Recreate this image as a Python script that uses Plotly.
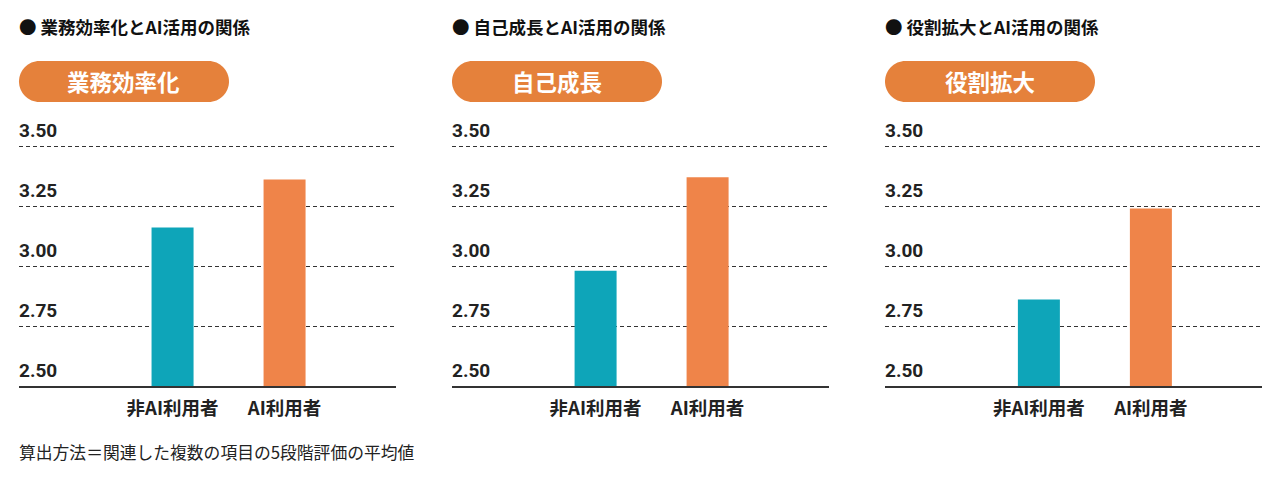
import plotly.graph_objects as go

# ---------------- data ----------------
panel_titles = ["● 業務効率化とAI活用の関係", "● 自己成長とAI活用の関係", "● 役割拡大とAI活用の関係"]
panel_labels = ["業務効率化", "自己成長", "役割拡大"]
categories = ["非AI利用者", "AI利用者"]
non_ai_values = [3.16, 2.98, 2.86]
ai_values = [3.36, 3.37, 3.24]
y_tick_values = [2.50, 2.75, 3.00, 3.25, 3.50]
y_tick_labels = ["2.50", "2.75", "3.00", "3.25", "3.50"]
footnote = "算出方法＝関連した複数の項目の5段階評価の平均値"

# ---------------- style ----------------
OFF = 8  # page body margin
W, H = 1280 - OFF, 480 - OFF
TEAL = "#0ea5b9"
ORANGE = "#ef8449"
PILL = "#e5813b"
INK = "#222222"
CJK = "Noto Sans CJK JP"
NUM = "Liberation Sans Narrow, Roboto, Noto Sans CJK JP"

# panel geometry in screen pixels (left, right of plot area) and x-range per panel
panels_px = [(19, 396), (452, 829), (885, 1262)]
x_ranges = [(-1.371, 1.995), (-1.282, 2.084), (-1.374, 1.992)]
plot_top_px, plot_bottom_px = 134, 386
y_range = (2.5, 3.55)


def px2x(px):
    return (px - OFF) / W


def px2y(py):
    return 1 - (py - OFF) / H


def pill_path(x0, y0, x1, y1):
    r = (y1 - y0) / 2
    k = 0.5523 * r

    def P(x, y):
        return f"{px2x(x):.5f},{px2y(y):.5f}"
    return (
        f"M{P(x0 + r, y0)} L{P(x1 - r, y0)} "
        f"C{P(x1 - r + k, y0)} {P(x1, y0 + r - k)} {P(x1, y0 + r)} "
        f"C{P(x1, y0 + r + k)} {P(x1 - r + k, y1)} {P(x1 - r, y1)} "
        f"L{P(x0 + r, y1)} "
        f"C{P(x0 + r - k, y1)} {P(x0, y0 + r + k)} {P(x0, y0 + r)} "
        f"C{P(x0, y0 + r - k)} {P(x0 + r - k, y0)} {P(x0 + r, y0)} Z"
    )


fig = go.Figure()
layout = dict(
    width=W, height=H,
    margin=dict(l=0, r=0, t=0, b=0),
    paper_bgcolor="white", plot_bgcolor="white",
    showlegend=False,
    font=dict(family=CJK, color=INK),
)
shapes = []
annotations = []

for i in range(3):
    n = "" if i == 0 else str(i + 1)
    xa, ya = "x" + n, "y" + n
    left, right = panels_px[i]
    fig.add_trace(go.Bar(
        x=categories,
        y=[non_ai_values[i], ai_values[i]],
        marker=dict(color=[TEAL, ORANGE], line=dict(width=0)),
        width=0.375,
        xaxis=xa, yaxis=ya,
        hoverinfo="x+y",
    ))
    layout["xaxis" + n] = dict(
        domain=[px2x(left), px2x(right)],
        anchor=ya,
        range=list(x_ranges[i]),
        type="category",
        showgrid=False, zeroline=False,
        showline=True, linecolor="#333333", linewidth=2,
        ticks="outside", ticklen=5, tickcolor="rgba(0,0,0,0)",
        tickfont=dict(family=CJK, size=18.5, color=INK, weight="bold"),
        fixedrange=True,
    )
    layout["yaxis" + n] = dict(
        domain=[px2y(plot_bottom_px), px2y(plot_top_px)],
        anchor=xa,
        range=list(y_range),
        tickvals=y_tick_values,
        showticklabels=False,
        showgrid=True, gridcolor="#333333", gridwidth=1.2, griddash="4px,3px",
        zeroline=False, showline=False, ticks="",
        fixedrange=True,
    )
    for v, t in zip(y_tick_values, y_tick_labels):
        annotations.append(dict(
            x=0, xref=xa + " domain", xanchor="left", xshift=-2,
            y=v, yref=ya, yanchor="bottom", yshift=2,
            text=t, showarrow=False,
            font=dict(family=NUM, size=19, color=INK, weight="bold"),
        ))
    annotations.append(dict(
        x=px2x(left), xref="paper", xanchor="left", xshift=-2,
        y=px2y(26), yref="paper", yanchor="middle",
        text=panel_titles[i], showarrow=False,
        font=dict(family=CJK, size=17.5, color="#111111", weight="bold"),
    ))
    p0, p1 = left, left + 210
    shapes.append(dict(
        type="path", xref="paper", yref="paper",
        path=pill_path(p0, 61, p1, 102),
        fillcolor=PILL, line=dict(width=0), layer="above",
    ))
    annotations.append(dict(
        x=px2x((p0 + p1) / 2), xref="paper", xanchor="center",
        y=px2y(81.5), yref="paper", yanchor="middle",
        text=panel_labels[i], showarrow=False,
        font=dict(family=CJK, size=22.5, color="white", weight="bold"),
    ))

annotations.append(dict(
    x=px2x(19), xref="paper", xanchor="left", xshift=-2,
    y=px2y(452), yref="paper", yanchor="middle",
    text=footnote, showarrow=False,
    font=dict(family=CJK, size=16.8, color=INK),
))

layout["shapes"] = shapes
layout["annotations"] = annotations
fig.update_layout(**layout)
fig.write_html("out.html")
